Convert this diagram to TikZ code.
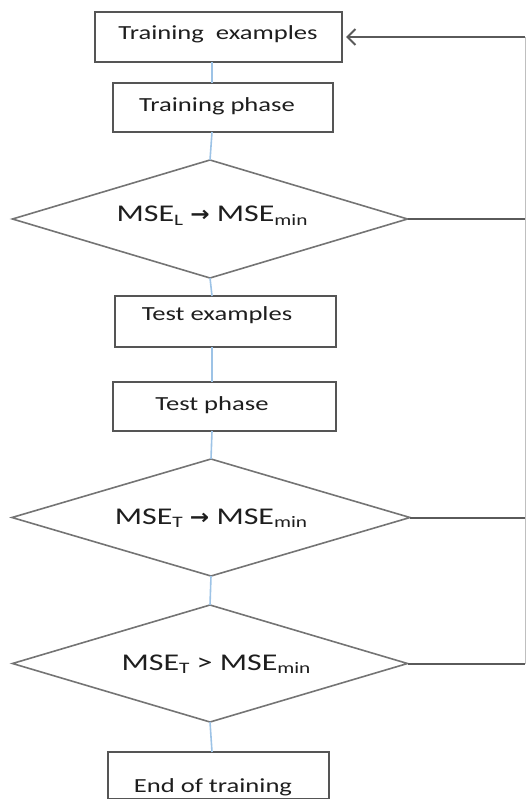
\documentclass[tikz,border=0pt]{standalone}
\usepackage{fontspec}
\setmainfont{Carlito}[FakeStretch=1.33]
\newfontfamily\arrowfont{DejaVu Sans}[FakeStretch=1.1]
\usetikzlibrary{shapes.geometric,arrows.meta}
\definecolor{boxline}{HTML}{555555}
\definecolor{dialine}{HTML}{747474}
\definecolor{flowblue}{HTML}{9DC3E6}
\definecolor{backline}{HTML}{5A5A5A}
\definecolor{txt}{HTML}{1E1E1E}
\newcommand\lowsub[1]{\raisebox{-0.3ex}{\fontsize{16}{16}\selectfont #1}}
\newcommand\bigarrow{{\arrowfont\bfseries\fontsize{21}{24}\selectfont →}}
\begin{document}
\begin{tikzpicture}[x=1pt,y=-1pt,
  stepbox/.style={draw=boxline,line width=2pt,rectangle,inner sep=0pt,outer sep=0pt},
  decision/.style={draw=dialine,line width=1.6pt,diamond,inner sep=0pt,outer sep=0pt},
  boxtext/.style={anchor=base,inner sep=0pt,text=txt,font=\fontsize{20}{24}\selectfont},
  diatext/.style={anchor=base,inner sep=0pt,text=txt,font=\fontsize{24}{28}\selectfont},
  flow/.style={draw=flowblue,line width=1.6pt},
  back/.style={draw=backline,line width=2pt},
  edge/.style={draw=black!25,line width=1pt}]
\useasboundingbox (0,0) rectangle (527,799);

% boxes
\node[stepbox,minimum width=247pt,minimum height=50pt] (b1) at (218.5,37) {};
\node[stepbox,minimum width=220pt,minimum height=49pt] (b2) at (223,107.5) {};
\node[stepbox,minimum width=221pt,minimum height=51pt] (b3) at (225.5,321.5) {};
\node[stepbox,minimum width=223pt,minimum height=49pt] (b4) at (224.5,406.5) {};
\node[stepbox,minimum width=221pt,minimum height=47pt] (b5) at (218.5,775.5) {};

% diamonds
\node[decision,minimum width=395pt,minimum height=118pt] (d1) at (210,219) {};
\node[decision,minimum width=398pt,minimum height=117pt] (d2) at (211,517.5) {};
\node[decision,minimum width=395pt,minimum height=117pt] (d3) at (210,663.5) {};

% texts
\node[boxtext] (t1) at (218,40) {Training~ examples};
\node[boxtext] (t2) at (217,112) {Training phase};
\node[boxtext] (t3) at (217,320) {Test examples};
\node[boxtext] (t4) at (212,410) {Test phase};
\node[boxtext] (t5) at (213,792) {End of training};
\node[diatext] (s1) at (212,222) {MSE\lowsub{L} \bigarrow{} MSE\lowsub{min}};
\node[diatext] (s2) at (211,524) {MSE\lowsub{T} \bigarrow{} MSE\lowsub{min}};
\node[diatext] (s3) at (216,670) {MSE\lowsub{T} > MSE\lowsub{min}};

% spine connectors
\coordinate (sx) at (212,0);
\draw[flow] (b1.south -| sx) -- (b2.north -| sx);
\draw[flow] (b2.south -| sx) -- (d1.north);
\draw[flow] (d1.south) -- (b3.north -| sx);
\draw[flow] (b3.south -| sx) -- (b4.north -| sx);
\draw[flow] (b4.south -| sx) -- (d2.north);
\draw[flow] (d2.south) -- (d3.north);
\draw[flow] (d3.south) -- (b5.north -| sx);

% feedback lines
\coordinate (rx) at (525,0);
\coordinate (top) at (525,37);
\coordinate (bot) at (525,663.5);
\draw[back] (d1.east) -- (d1.east -| rx);
\draw[back] (d2.east) -- (d2.east -| rx);
\draw[back] (d3.east) -- (d3.east -| rx);
\draw[edge] (bot) -- (top);
\draw[back,line width=2.2pt,-{Straight Barb[length=8pt,width=16pt,line width=2pt]}] (top) -- ([xshift=4pt]b1.east);
\end{tikzpicture}
\end{document}
